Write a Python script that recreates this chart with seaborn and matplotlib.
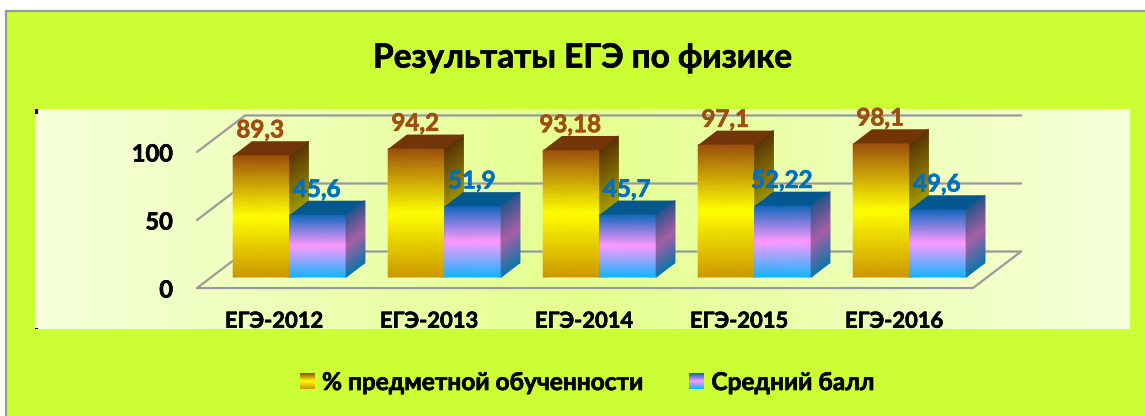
import numpy as np
import pandas as pd
import matplotlib
matplotlib.use('Agg')  #Non-interactive backend
import matplotlib.pyplot as plt
import matplotlib.patheffects as pe
import seaborn as sns
from matplotlib.colors import LinearSegmentedColormap
from matplotlib.legend_handler import HandlerBase
from matplotlib.patches import Polygon, Rectangle

#Data
categories = ['ЕГЭ-2012', 'ЕГЭ-2013', 'ЕГЭ-2014', 'ЕГЭ-2015', 'ЕГЭ-2016']
percent_values = [89.3, 94.2, 93.18, 97.1, 98.1]
mean_values = [45.6, 51.9, 45.7, 52.22, 49.6]
percent_labels = ['89,3', '94,2', '93,18', '97,1', '98,1']
mean_labels = ['45,6', '51,9', '45,7', '52,22', '49,6']
series_names = ['% предметной обученности', 'Средний балл']
y_ticks = [0, 50, 100]

W, H = 1145, 416
FONT = ['Lato', 'Noto Sans', 'DejaVu Sans']

#Set style
sns.set_theme(style='white')
plt.rcParams['font.family'] = FONT
plt.rcParams['font.weight'] = 'bold'

#Gradients, top to bottom
front_cmaps = [
    LinearSegmentedColormap.from_list('gold', ['#9C4F0C', '#FFFF00', '#CC9900']),
    LinearSegmentedColormap.from_list('blue', ['#1067BD', '#FF99FF', '#17B5FA']),
]
side_cmaps = [
    LinearSegmentedColormap.from_list('gold_side', ['#5A3406', '#A09A00', '#8A6A00']),
    LinearSegmentedColormap.from_list('blue_side', ['#2A5488', '#A860A6', '#1076A8']),
]
top_colors = ['#733508', '#05588F']
label_colors = ['#A04E10', '#0070C0']
wall_cmap = LinearSegmentedColormap.from_list('wall', ['#F6FFDA', '#E5FF8E', '#F6FFDA'])

#Depth of the fake 3D view, in data units
BAR_DX, BAR_DY = 0.1206, 10.5
WALL_DX, WALL_DY = 0.31, 26.84
FLOOR_DY = -8.09
FLOOR_X0, FLOOR_X1 = -0.598, 4.408
LABEL_DY = 18.8


def thicken(text, color='black', width=0.5):
    #The reference font is heavier than Lato Bold
    text.set_path_effects([pe.withStroke(linewidth=width, foreground=color)])


positions = list(range(len(categories)))
df = pd.DataFrame({
    'position': positions * 2,
    'series': [series_names[0]] * 5 + [series_names[1]] * 5,
    'value': percent_values + mean_values,
})

fig = plt.figure(figsize=(W / 100, H / 100), dpi=100, facecolor='white')
fig.patches.append(Rectangle((6 / W, -0.1), 1.1, 1 - 10.5 / H + 0.1, transform=fig.transFigure,
                             facecolor='#CCFF33', edgecolor='#999999', linewidth=1.6, zorder=-1))

ax = fig.add_axes([35 / W, 1 - 329 / H, 1095 / W, 220 / H])
ax.imshow(np.linspace(0, 1, 256).reshape(1, -1), extent=(0, 1, 0, 1), transform=ax.transAxes,
          cmap=wall_cmap, aspect='auto', zorder=0)

#Walls and floor
grid = dict(color='#9A9A9A', linewidth=1.6, zorder=1, solid_capstyle='round')
for t in y_ticks:
    y0 = t + FLOOR_DY
    ax.plot([FLOOR_X0, FLOOR_X0 + WALL_DX, FLOOR_X1 + WALL_DX],
            [y0, y0 + WALL_DY, y0 + WALL_DY], **grid)
ax.plot([FLOOR_X0, FLOOR_X1, FLOOR_X1 + WALL_DX],
        [FLOOR_DY, FLOOR_DY, FLOOR_DY + WALL_DY], **grid)

#Bars
sns.barplot(data=df, x='position', y='value', hue='series', hue_order=series_names,
            native_scale=True, width=0.729, gap=0, legend=False, saturation=1,
            palette=['#CC9900', '#17B5FA'], ax=ax, zorder=3)

rows = np.linspace(0, 1, 30)
for s, (container, labels) in enumerate(zip(ax.containers, [percent_labels, mean_labels])):
    z = 3 + s
    for bar, text in zip(container, labels):
        x0, x1 = bar.get_x(), bar.get_x() + bar.get_width()
        h = bar.get_height()
        ys = h * (1 - rows)
        bar.set_zorder(z)
        #Front
        X = np.column_stack([np.full(30, x0), np.full(30, x1)])
        Y = np.column_stack([ys, ys])
        C = np.column_stack([rows, rows])
        ax.pcolormesh(X, Y, C, cmap=front_cmaps[s], vmin=0, vmax=1, shading='gouraud', zorder=z)
        #Side
        X = np.column_stack([np.full(30, x1), np.full(30, x1 + BAR_DX)])
        Y = np.column_stack([ys, ys + BAR_DY])
        ax.pcolormesh(X, Y, C, cmap=side_cmaps[s], vmin=0, vmax=1, shading='gouraud', zorder=z)
        #Top
        ax.add_patch(Polygon([(x0, h), (x1, h), (x1 + BAR_DX, h + BAR_DY), (x0 + BAR_DX, h + BAR_DY)],
                             closed=True, facecolor=top_colors[s], edgecolor='none', zorder=z))
        t = ax.text((x0 + x1) / 2 - 0.008, h + LABEL_DY, text, ha='center', va='center', color=label_colors[s],
                    fontsize=17.4, fontweight='bold', zorder=6)
        thicken(t, label_colors[s])

#Axes
ax.set_xlim(-1.643, 5.421)
ax.set_ylim(-38.2, 123.5)
ax.set_xticks(np.array(positions) - 0.1, categories)
ax.set_yticks([t + FLOOR_DY for t in y_ticks], [str(t) for t in y_ticks])
ax.set_xlabel('')
ax.set_ylabel('')
ax.tick_params(axis='x', length=0, pad=-13.2, labelsize=15.8, labelcolor='black')
ax.tick_params(axis='y', length=0, pad=-99.4, labelsize=17, labelcolor='black')
for label in ax.get_xticklabels() + ax.get_yticklabels():
    thicken(label)
for spine in ax.spines.values():
    spine.set_visible(False)
#Stray tick marks in the corners of the plot area
ax.add_patch(Rectangle((0, 0.979), 0.0027, 0.021, transform=ax.transAxes,
                       facecolor='black', edgecolor='none', zorder=7))
ax.add_patch(Rectangle((0, 0), 0.0027, 0.005, transform=ax.transAxes,
                       facecolor='black', edgecolor='none', zorder=7))

#Title
title = fig.text(582.5 / W, 1 - 58 / H, 'Результаты ЕГЭ по физике', ha='center', va='center',
                 fontsize=24, fontweight='bold', color='black')
thicken(title)


#Legend with gradient swatches
class GradientHandler(HandlerBase):
    def __init__(self, cmap):
        super().__init__()
        self.cmap = cmap

    def create_artists(self, legend, orig_handle, xdescent, ydescent, width, height, fontsize, trans):
        stripes = []
        for i in range(16):
            stripes.append(Rectangle((-xdescent, -ydescent + height * (15 - i) / 16), width, height / 16 + 0.2,
                                     facecolor=self.cmap(i / 15), edgecolor='none', transform=trans))
        return stripes


handles = [Rectangle((0, 0), 1, 1), Rectangle((0, 0), 1, 1)]
legend = fig.legend(handles, series_names, ncols=2, frameon=False, loc='center',
                    bbox_to_anchor=(587 / W, 1 - 382.5 / H), fontsize=17.6, handlelength=0.62, handleheight=0.62,
                    handletextpad=0.29, columnspacing=1.9, labelcolor='black',
                    handler_map={handles[0]: GradientHandler(front_cmaps[0]),
                                 handles[1]: GradientHandler(front_cmaps[1])})
for label in legend.get_texts():
    thicken(label)

fig.savefig('out.png', dpi=100)
